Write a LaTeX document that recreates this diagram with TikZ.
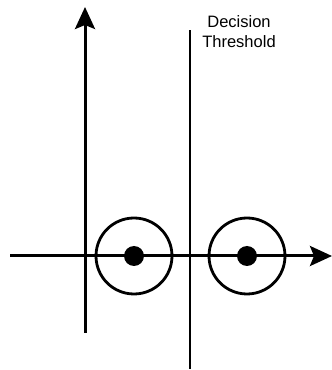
\documentclass[tikz,border=0pt]{standalone}
\usepackage{fontspec}
\setmainfont{Liberation Sans}
\usetikzlibrary{arrows.meta}
\begin{document}
\begin{tikzpicture}[x=1pt,y=1pt,
  axis/.style={line width=3pt,-{Stealth[length=22pt,width=20pt,inset=4pt]}},
  ring/.style={circle,draw,line width=2.8pt,minimum size=76pt,inner sep=0pt},
  dot/.style={circle,fill,minimum size=20pt,inner sep=0pt},
  thr/.style={line width=2pt},
  lbl/.style={font=\fontsize{16.5pt}{20pt}\selectfont,align=center,inner sep=0pt}]
\useasboundingbox (0,0) rectangle (332,370);
\coordinate (vb) at (85,37);
\coordinate (vt) at (85,363);
\coordinate (hl) at (10,114);
\coordinate (hr) at (332,114);
\coordinate (tt) at (190,340);
\coordinate (tb) at (190,1);
\node[ring] (c1) at (134,114) {};
\node[ring] (c2) at (247,114) {};
\node[dot] (d1) at (134,114) {};
\node[dot] (d2) at (247,114) {};
\draw[axis] (vb) -- (vt);
\draw[axis] (hl) -- (hr);
\draw[thr] (tb) -- (tt);
\node[lbl] (lab) at (239,338) {Decision\\Threshold};
\end{tikzpicture}
\end{document}
